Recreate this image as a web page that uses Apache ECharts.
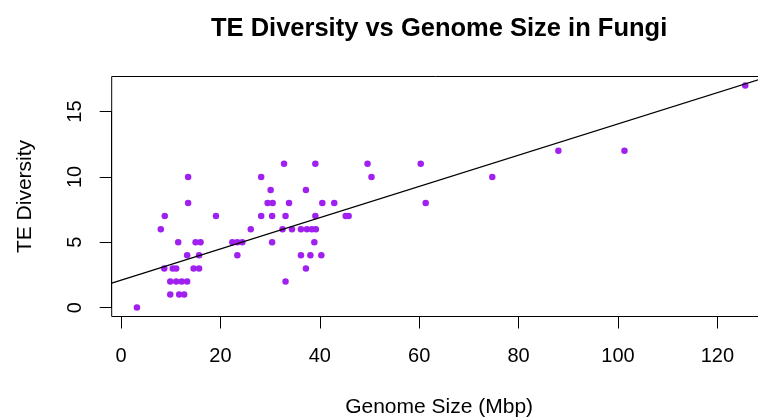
<!DOCTYPE html>
<html>
<head>
<meta charset="utf-8">
<script src="https://cdn.jsdelivr.net/npm/echarts@6/dist/echarts.min.js"></script>
<style>
  html, body { margin: 0; padding: 0; background: #fff; }
  #chart { width: 758px; height: 418px; }
</style>
</head>
<body>
<div id="chart"></div>
<script>
// data
var genomeSize = [
  3.2,
  9.9, 11.7, 12.7,
  9.9, 11.1, 12.2, 13.3, 33.1,
  8.7, 10.4, 11.1, 14.6, 15.7, 37.2,
  13.3, 15.7, 23.4, 36.2, 38.1, 40.3,
  11.5, 15.0, 16.0, 22.4, 23.4, 24.4, 30.4, 38.9,
  8.0, 26.1, 32.5, 34.4, 36.2, 37.4, 38.4, 39.2,
  8.8, 19.1, 28.2, 30.4, 33.1, 39.1, 45.2, 45.8,
  13.5, 29.5, 30.5, 33.8, 40.5, 42.9, 61.3,
  30.1, 37.2,
  13.5, 28.2, 50.4, 74.7,
  32.8, 39.1, 49.6, 60.3,
  88.0, 101.3,
  125.6
];
var teDiversity = [
  0,
  1, 1, 1,
  2, 2, 2, 2, 2,
  3, 3, 3, 3, 3, 3,
  4, 4, 4, 4, 4, 4,
  5, 5, 5, 5, 5, 5, 5, 5,
  6, 6, 6, 6, 6, 6, 6, 6,
  7, 7, 7, 7, 7, 7, 7, 7,
  8, 8, 8, 8, 8, 8, 8,
  9, 9,
  10, 10, 10, 10,
  11, 11, 11, 11,
  12, 12,
  17
];
// fitted line (abline)
var fitIntercept = 2.1;
var fitSlope = 0.1195;

var xTicks = [0, 120, 20];   // min, max, step
var yTicks = [0, 15, 5];

// R pads the data range by 4%
var xRange = [-1.88, 129.88];
var yRange = [-0.68, 17.68];

// plot box in pixels
var box = { left: 111.7, top: 76.5, width: 654.8, height: 240 };
var xScale = box.width / (xRange[1] - xRange[0]);
var yScale = box.height / (yRange[1] - yRange[0]);
// grid holding the visible axes (only spans the tick range)
var axisGrid = {
  left: box.left + (xTicks[0] - xRange[0]) * xScale,
  width: (xTicks[1] - xTicks[0]) * xScale,
  top: box.top + (yRange[1] - yTicks[1]) * yScale,
  height: (yTicks[1] - yTicks[0]) * yScale
};
var xOffset = box.top + box.height - (axisGrid.top + axisGrid.height);
var yOffset = axisGrid.left - box.left;

var points = genomeSize.map(function (x, i) { return [x, teDiversity[i]]; });
var fitLine = xRange.map(function (x) { return [x, fitIntercept + fitSlope * x]; });

var font = 'Liberation Sans';
var chart = echarts.init(document.getElementById('chart'));
chart.setOption({
  animation: false,
  backgroundColor: '#fff',
  textStyle: { fontFamily: font, color: '#000' },
  graphic: [{
    type: 'text',
    x: box.left + box.width / 2,
    y: 29,
    style: {
      text: 'TE Diversity vs Genome Size in Fungi',
      font: 'bold 25.5px "Liberation Sans"',
      fill: '#000',
      align: 'center',
      verticalAlign: 'middle'
    }
  }],
  grid: [
    {
      left: box.left, top: box.top, width: box.width, height: box.height,
      outerBoundsMode: 'none', containLabel: false,
      show: true, borderColor: '#000', borderWidth: 1, backgroundColor: 'transparent'
    },
    {
      left: axisGrid.left, top: axisGrid.top, width: axisGrid.width, height: axisGrid.height,
      outerBoundsMode: 'none', containLabel: false
    }
  ],
  xAxis: [
    {
      gridIndex: 0, type: 'value', min: xRange[0], max: xRange[1],
      axisLine: { show: false }, axisTick: { show: false }, axisLabel: { show: false },
      splitLine: { show: false },
      name: 'Genome Size (Mbp)', nameLocation: 'middle', nameGap: 80,
      nameTextStyle: { fontSize: 21, color: '#000', fontFamily: font }
    },
    {
      gridIndex: 1, type: 'value', min: xTicks[0], max: xTicks[1], interval: xTicks[2],
      position: 'bottom', offset: xOffset,
      axisLine: { show: true, onZero: false, lineStyle: { color: '#000', width: 1 } },
      axisTick: { show: true, length: 12, lineStyle: { color: '#000', width: 1 } },
      axisLabel: { fontSize: 20, color: '#000', margin: 30, fontFamily: font },
      splitLine: { show: false }
    }
  ],
  yAxis: [
    {
      gridIndex: 0, type: 'value', min: yRange[0], max: yRange[1],
      axisLine: { show: false }, axisTick: { show: false }, axisLabel: { show: false },
      splitLine: { show: false },
      name: 'TE Diversity', nameLocation: 'middle', nameGap: 76,
      nameTextStyle: { fontSize: 21, color: '#000', fontFamily: font }
    },
    {
      gridIndex: 1, type: 'value', min: yTicks[0], max: yTicks[1], interval: yTicks[2],
      position: 'left', offset: yOffset,
      axisLine: { show: true, onZero: false, lineStyle: { color: '#000', width: 1 } },
      axisTick: { show: true, length: 12, lineStyle: { color: '#000', width: 1 } },
      axisLabel: { fontSize: 20, color: '#000', margin: 26, rotate: 90, fontFamily: font },
      splitLine: { show: false }
    }
  ],
  series: [
    {
      type: 'scatter',
      xAxisIndex: 0, yAxisIndex: 0,
      data: points,
      symbol: 'circle',
      symbolSize: 6.5,
      itemStyle: { color: '#A020F0', opacity: 1 },
      z: 2
    },
    {
      type: 'line',
      xAxisIndex: 0, yAxisIndex: 0,
      data: fitLine,
      showSymbol: false,
      symbol: 'none',
      lineStyle: { color: '#000', width: 1.2 },
      clip: true,
      z: 3
    }
  ]
});
</script>
</body>
</html>
